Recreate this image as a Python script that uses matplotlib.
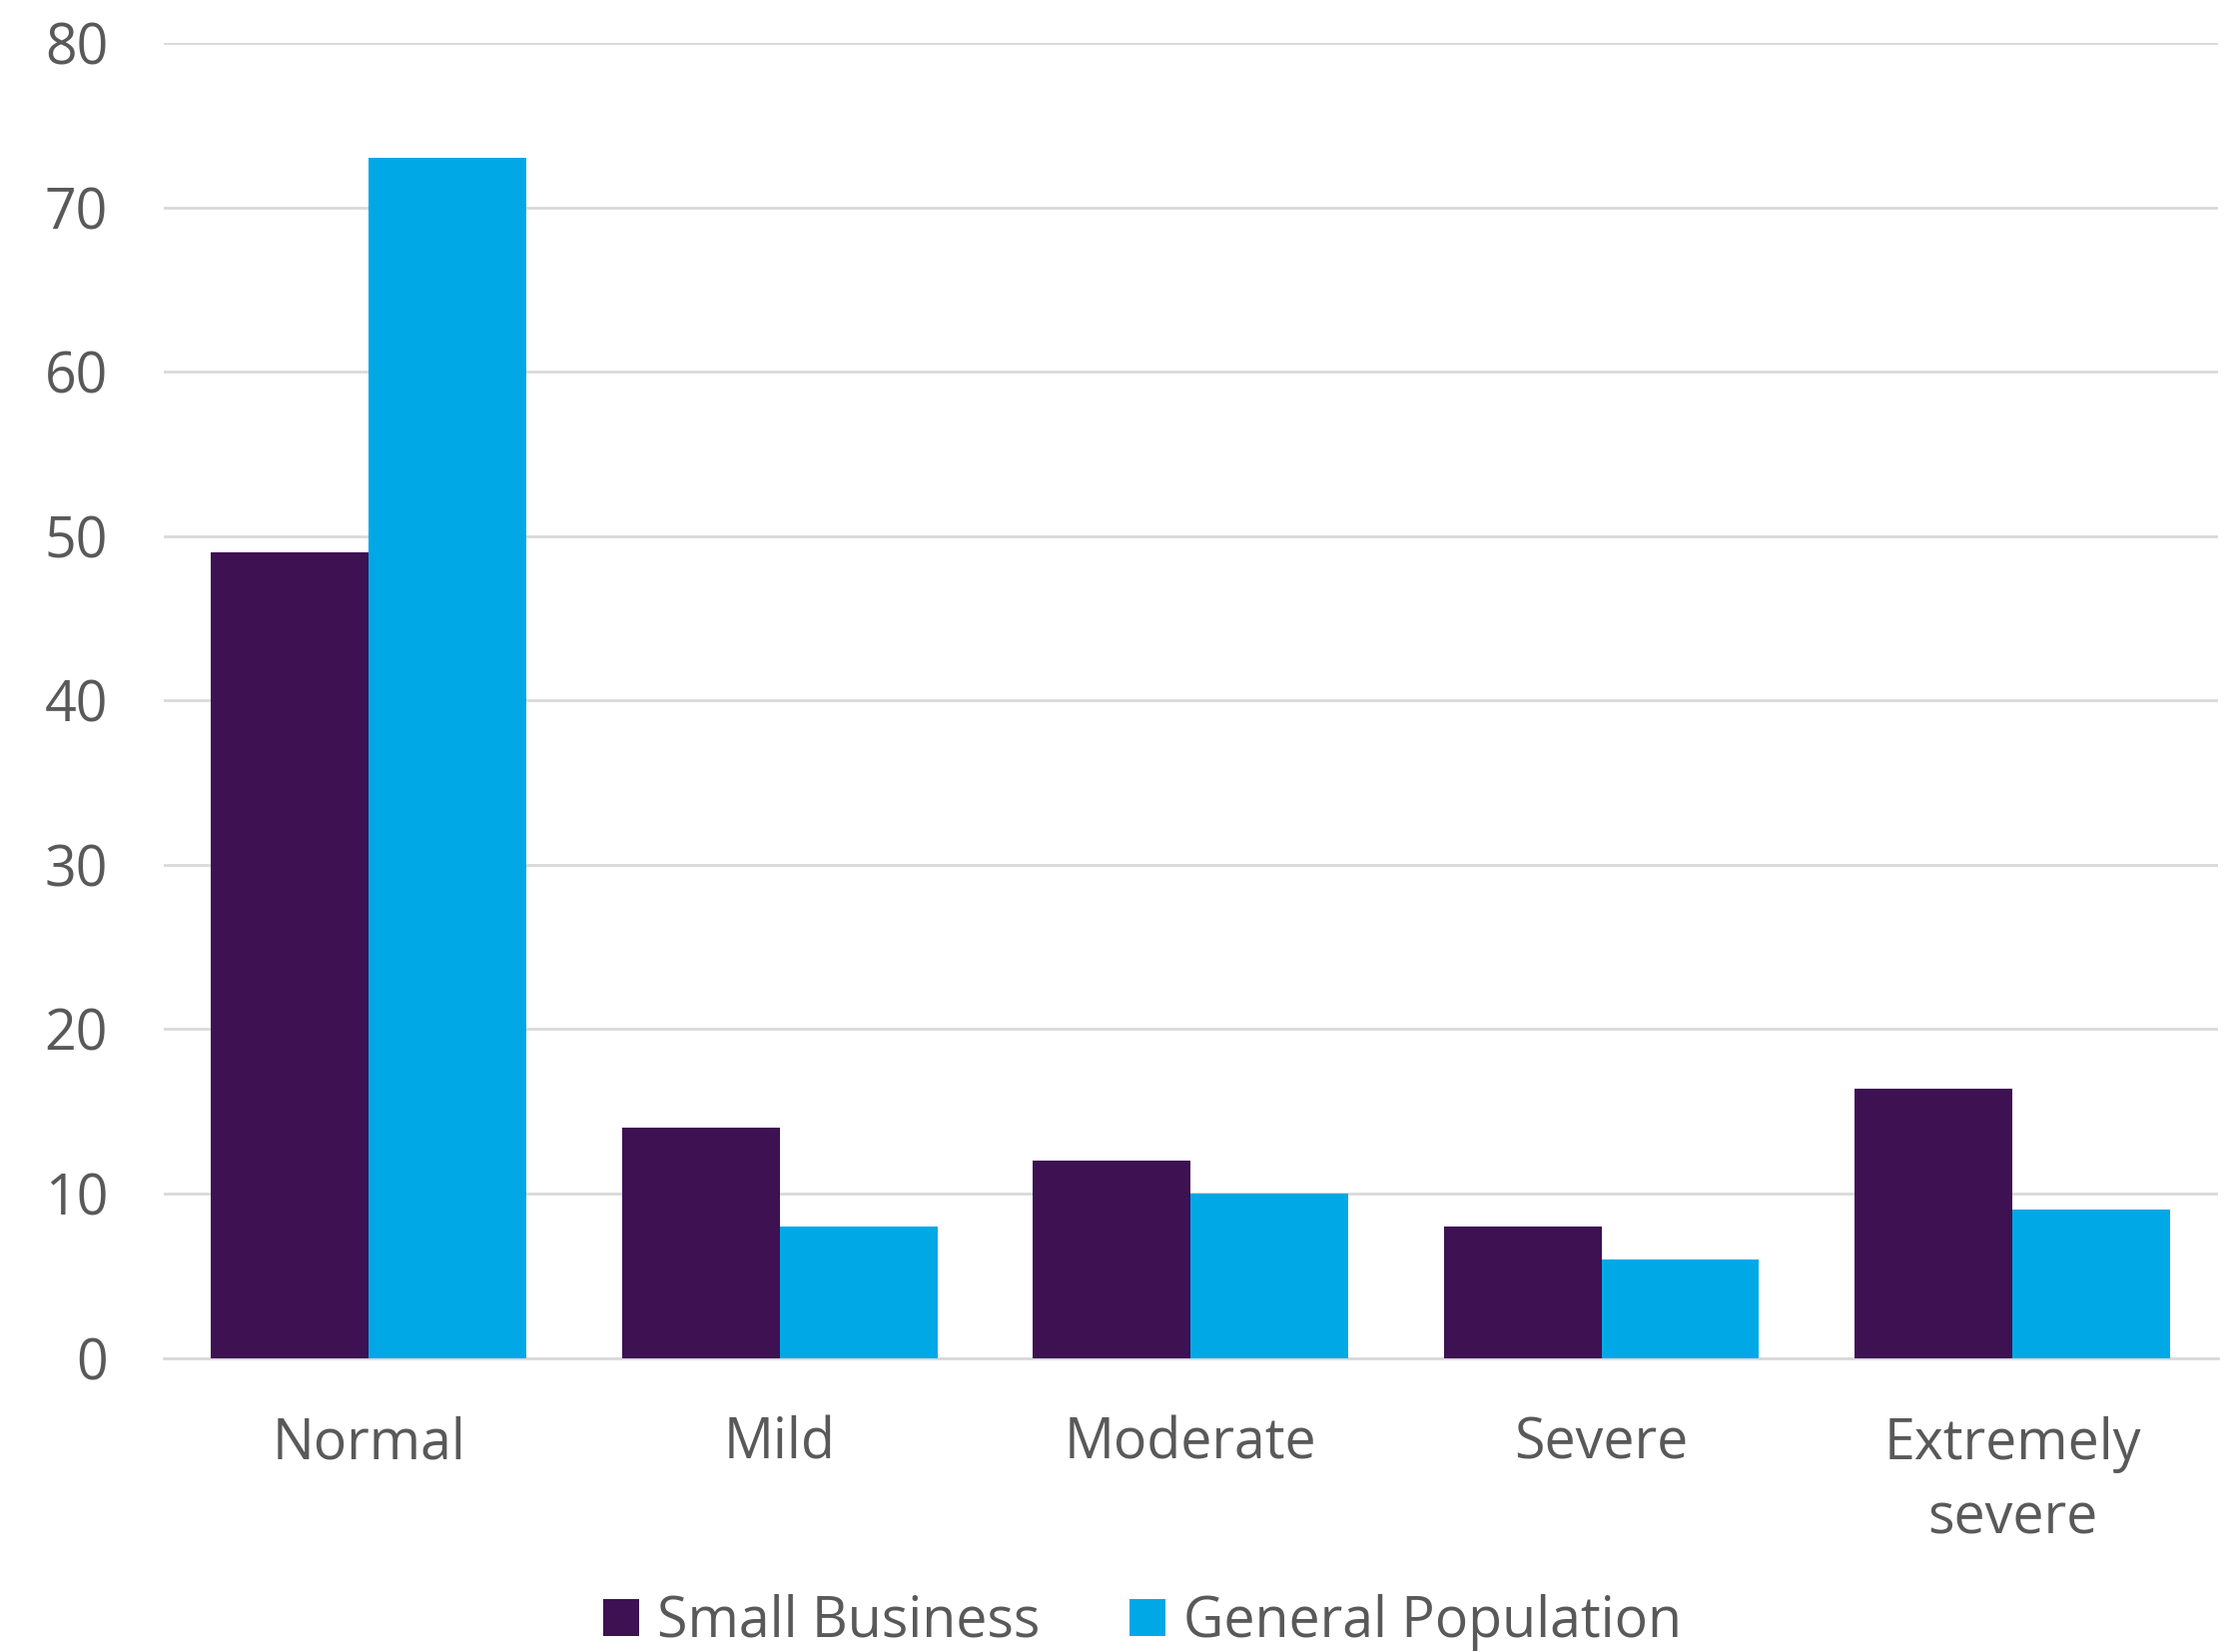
import matplotlib.pyplot as plt
import numpy as np

plt.rcParams['font.family'] = ['Open Sans', 'DejaVu Sans']

categories = ['Normal', 'Mild', 'Moderate', 'Severe', 'Extremely\nsevere']
small_business = [49, 14, 12, 8, 16.4]
general_population = [73, 8, 10, 6, 9]
series_names = ['Small Business', 'General Population']
colors = ['#3D1152', '#00A9E6']

text_col = '#595959'
grid_col = '#D9D9D9'

fig = plt.figure(figsize=(22.43, 16.54), dpi=100)
ax = fig.add_axes([0.073, 0.178, 0.917, 0.796])

x = np.arange(len(categories))
w = 0.384
ax.bar(x - w / 2, small_business, w, color=colors[0], label=series_names[0], zorder=3)
ax.bar(x + w / 2, general_population, w, color=colors[1], label=series_names[1], zorder=3)

ax.set_xlim(-0.5, len(categories) - 0.5)
ax.set_ylim(0, 80)
ax.set_yticks(np.arange(0, 81, 10))
ax.yaxis.grid(True, color=grid_col, lw=2, zorder=0)
ax.set_axisbelow(True)

for s in ['top', 'right', 'left']:
    ax.spines[s].set_visible(False)
ax.spines['bottom'].set_color(grid_col)
ax.spines['bottom'].set_linewidth(2)

ax.set_xticks(x)
ax.set_xticklabels(categories, linespacing=1.4)
ax.tick_params(axis='both', length=0, labelsize=40, labelcolor=text_col)
ax.tick_params(axis='x', pad=42)
ax.tick_params(axis='y', pad=40)

fig.legend(loc='center', bbox_to_anchor=(0.51, 0.018), ncol=2, frameon=False,
           fontsize=40, labelcolor=text_col, handlelength=0.65, handleheight=0.65,
           handletextpad=0.33, columnspacing=1.6)

fig.savefig('out.png', dpi=100)
